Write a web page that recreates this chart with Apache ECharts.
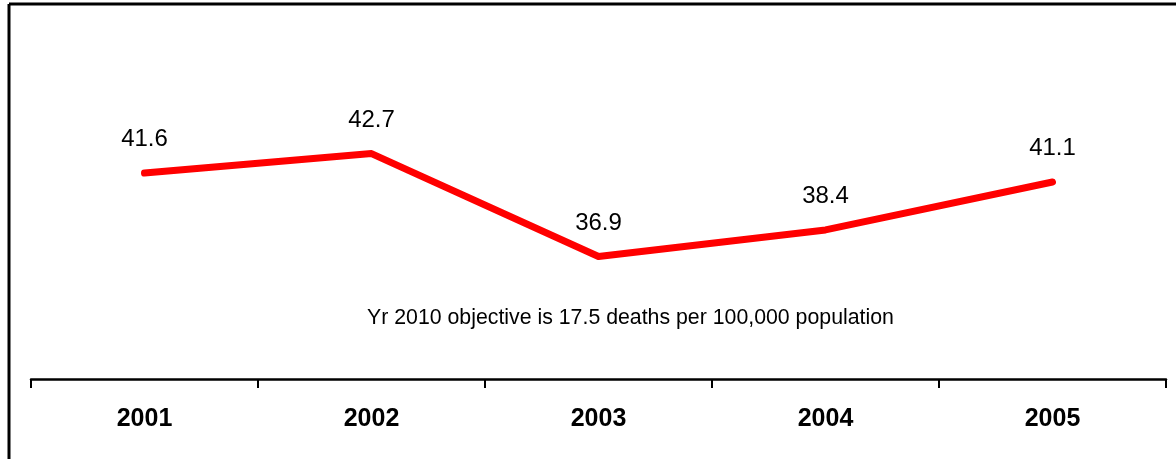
<!DOCTYPE html>
<html>
<head>
<meta charset="utf-8">
<script src="https://cdn.jsdelivr.net/npm/echarts@6/dist/echarts.min.js"></script>
<style>
  html, body { margin: 0; padding: 0; background: #fff; }
  #main { width: 1176px; height: 459px; }
</style>
</head>
<body>
<div id="main"></div>
<script>
// data
var years = ['2001', '2002', '2003', '2004', '2005'];
var deathRate = [41.6, 42.7, 36.9, 38.4, 41.1];
var noteText = 'Yr 2010 objective is 17.5 deaths per 100,000 population';

var chart = echarts.init(document.getElementById('main'));

var option = {
  animation: false,
  backgroundColor: '#fff',
  grid: { left: 31, right: 10, top: 24, bottom: 80 },
  xAxis: {
    type: 'category',
    data: years,
    boundaryGap: true,
    axisLine: { lineStyle: { color: '#000', width: 2.5 } },
    axisTick: { show: true, inside: false, length: 9, lineStyle: { color: '#000', width: 2 } },
    axisLabel: {
      color: '#000',
      fontFamily: 'Liberation Sans, Arial',
      fontWeight: 'bold',
      fontSize: 25,
      margin: 28
    }
  },
  yAxis: {
    type: 'value',
    min: 30,
    max: 50,
    show: false,
    splitLine: { show: false }
  },
  series: [
    {
      type: 'line',
      data: deathRate,
      symbol: 'circle',
      symbolSize: 1,
      showSymbol: true,
      itemStyle: { color: '#ff0000' },
      lineStyle: { color: '#ff0000', width: 7, cap: 'round', join: 'round' },
      label: {
        show: true,
        position: 'top',
        distance: 21,
        color: '#000',
        fontFamily: 'Liberation Sans, Arial',
        fontSize: 24
      }
    }
  ],
  graphic: [
    {
      type: 'line',
      shape: { x1: 9, y1: 4, x2: 1176, y2: 4 },
      style: { stroke: '#000', lineWidth: 3 }
    },
    {
      type: 'line',
      shape: { x1: 9, y1: 4, x2: 9, y2: 459 },
      style: { stroke: '#000', lineWidth: 3 }
    },
    {
      type: 'text',
      left: 367,
      top: 308,
      style: {
        text: noteText,
        fill: '#000',
        font: '21.3px "Liberation Sans", Arial'
      }
    }
  ]
};

chart.setOption(option);
</script>
</body>
</html>
